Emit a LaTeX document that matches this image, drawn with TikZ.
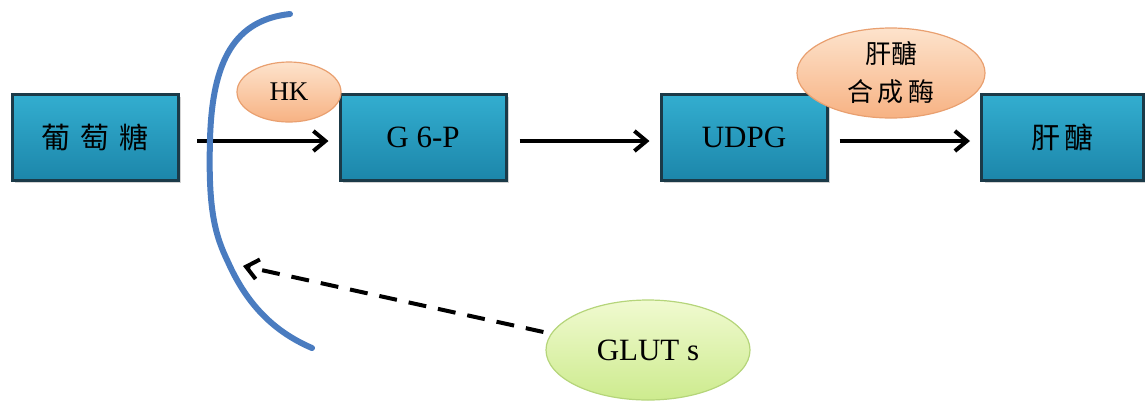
\documentclass[tikz,border=0pt]{standalone}
\usepackage{fontspec}
\setmainfont{Liberation Serif}
\newfontfamily\cjk{Noto Sans CJK TC}
\usetikzlibrary{arrows.meta,shapes.geometric,shadows}
\definecolor{boxtop}{HTML}{33AED0}
\definecolor{boxbot}{HTML}{1C86AA}
\definecolor{boxline}{HTML}{1B3A48}
\definecolor{orgtop}{HTML}{FDE3CC}
\definecolor{orgbot}{HTML}{F7B283}
\definecolor{orgline}{HTML}{E9A070}
\definecolor{grntop}{HTML}{F0FAD0}
\definecolor{grnbot}{HTML}{CDEB8E}
\definecolor{grnline}{HTML}{B5D57A}
\definecolor{penblue}{HTML}{4A7CC0}
\tikzset{
  stepbox/.style={draw=boxline, line width=1.5pt, top color=boxtop, bottom color=boxbot,
    minimum width=83pt, minimum height=43pt, inner sep=0pt,
    drop shadow={shadow xshift=1.5pt, shadow yshift=-1.5pt, opacity=0.35}},
  enzyme/.style={ellipse, draw=orgline, line width=0.6pt, top color=orgtop, bottom color=orgbot, inner sep=0pt},
  tipstyle/.style={-{Straight Barb[length=6pt,width=10pt,line width=2pt]}},
  flow/.style={tipstyle, line width=2pt, black},
}
\begin{document}
\begin{tikzpicture}[x=0.5pt,y=-0.5pt]
\useasboundingbox (0,0) rectangle (1145,403);
\node[stepbox] (glc) at (95,137) {\cjk\fontsize{14.5}{16}\selectfont 葡\,\,萄\,\,糖};
\node[stepbox] (g6p) at (423,137) {\fontsize{15.5}{17}\selectfont G 6-P};
\node[stepbox] (udpg) at (744,137) {\fontsize{15.5}{17}\selectfont UDPG};
\node[stepbox, minimum width=81pt] (gly) at (1062.5,137) {\cjk\fontsize{14.5}{16}\selectfont 肝\,醣};

\node[enzyme, minimum width=52pt, minimum height=30pt] (hk) at (289,92) {\fontsize{13.5}{15}\selectfont HK};
\node[enzyme, minimum width=94pt, minimum height=45pt, align=center,
  font=\cjk\fontsize{13}{19}\selectfont] (gs) at (891,73)
  {肝醣\\ 合\,成\,酶};
\node[ellipse, draw=grnline, line width=0.6pt, top color=grntop, bottom color=grnbot,
  minimum width=102pt, minimum height=50pt, inner sep=0pt] (glut) at (648,350)
  {\fontsize{15.5}{17}\selectfont GLUT s};

\coordinate (a1s) at (197,141);
\coordinate (a1e) at (g6p.west|-a1s);
\draw[flow] (a1s) -- ([xshift=-5pt]a1e);
\draw[flow] ([xshift=6pt]g6p.east|-a1s) -- ([xshift=-5pt]udpg.west|-a1s);
\draw[flow] ([xshift=5.5pt]udpg.east|-a1s) -- ([xshift=-5pt]gly.west|-a1s);

\coordinate (mem) at (243,266);
\draw[tipstyle, line width=2pt, dash pattern=on 9pt off 6pt]
  (glut.west) ++(-2,-18) -- (mem);

\draw[penblue, line width=3pt, line cap=round, line join=round]
  (290,14) .. controls (235,20) and (212,60) .. (210,140)
  .. controls (208,210) and (215,235) .. (228,262)
  .. controls (245,300) and (270,330) .. (312,348);
\end{tikzpicture}
\end{document}
